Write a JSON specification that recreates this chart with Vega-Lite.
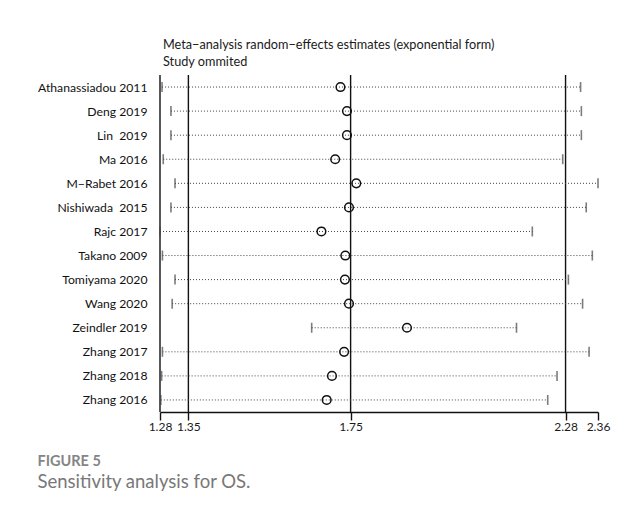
{
  "$schema": "https://vega.github.io/schema/vega-lite/v6.json",
  "width": 438,
  "height": 337,
  "autosize": {"type": "none"},
  "padding": {"left": 160, "top": 75, "right": 45, "bottom": 105},
  "background": "white",
  "config": {
    "view": {"stroke": null},
    "font": "Lato"
  },
  "title": {
    "text": ["Meta−analysis random−effects estimates (exponential form)", "Study ommited"],
    "anchor": "start",
    "frame": "group",
    "orient": "top",
    "dx": 3,
    "offset": 6,
    "fontSize": 12.7,
    "fontWeight": "normal",
    "lineHeight": 17,
    "color": "#1a1a1a",
    "font": "Lato"
  },
  "datasets": {
    "studies": [
      {"study": "Athanassiadou 2011", "lo": 1.285, "est": 1.725, "hi": 2.317},
      {"study": "Deng 2019", "lo": 1.307, "est": 1.741, "hi": 2.319},
      {"study": "Lin \u00a02019", "lo": 1.307, "est": 1.741, "hi": 2.319},
      {"study": "Ma 2016", "lo": 1.288, "est": 1.712, "hi": 2.273},
      {"study": "M−Rabet 2016", "lo": 1.317, "est": 1.764, "hi": 2.36},
      {"study": "Nishiwada \u00a02015", "lo": 1.307, "est": 1.746, "hi": 2.331},
      {"study": "Rajc 2017", "lo": 1.28, "est": 1.678, "hi": 2.198},
      {"study": "Takano 2009", "lo": 1.286, "est": 1.737, "hi": 2.346},
      {"study": "Tomiyama 2020", "lo": 1.317, "est": 1.736, "hi": 2.287},
      {"study": "Wang 2020", "lo": 1.31, "est": 1.746, "hi": 2.322},
      {"study": "Zeindler 2019", "lo": 1.654, "est": 1.889, "hi": 2.159},
      {"study": "Zhang 2017", "lo": 1.286, "est": 1.734, "hi": 2.338},
      {"study": "Zhang 2018", "lo": 1.284, "est": 1.704, "hi": 2.259},
      {"study": "Zhang 2016", "lo": 1.282, "est": 1.691, "hi": 2.236}
    ],
    "refs": [
      {"v": 1.28},
      {"v": 1.35},
      {"v": 1.75},
      {"v": 2.28}
    ]
  },
  "layer": [
    {
      "data": {"name": "refs"},
      "mark": {"type": "rule", "color": "#111111", "strokeWidth": 1.4},
      "encoding": {
        "x": {
          "field": "v",
          "type": "quantitative",
          "scale": {"domain": [1.28, 2.36], "nice": false, "zero": false},
          "axis": {
            "values": [1.28, 1.35, 1.75, 2.28, 2.36],
            "format": ".2f",
            "grid": false,
            "domainColor": "#111111",
            "domainWidth": 1.4,
            "tickColor": "#111111",
            "tickWidth": 1.4,
            "tickSize": 8,
            "labelFontSize": 12,
            "labelColor": "#1a1a1a",
            "labelPadding": 1,
            "labelFlush": false,
            "labelOverlap": false,
            "title": "FIGURE 5",
            "titleFontSize": 14.5,
            "titleFontWeight": "bold",
            "titleColor": "#858585",
            "titleAnchor": "start",
            "titleAlign": "left",
            "titleBaseline": "alphabetic",
            "titleX": -123,
            "titleY": 53
          }
        }
      }
    },
    {
      "data": {"name": "studies"},
      "mark": {"type": "rule", "color": "#444444", "strokeWidth": 1, "strokeDash": [1, 2]},
      "encoding": {
        "x": {"field": "lo", "type": "quantitative"},
        "x2": {"field": "hi"},
        "y": {
          "field": "study",
          "type": "nominal",
          "sort": null,
          "scale": {"type": "point", "padding": 0.5},
          "axis": {
            "domain": false,
            "ticks": false,
            "labelFontSize": 12.2,
            "labelColor": "#111111",
            "labelPadding": 13,
            "title": "Sensitivity analysis for OS.",
            "titleFontSize": 18.5,
            "titleFontWeight": "normal",
            "titleColor": "#787878",
            "titleAngle": 0,
            "titleAlign": "left",
            "titleBaseline": "alphabetic",
            "titleX": -123,
            "titleY": 412
          }
        }
      }
    },
    {
      "data": {"name": "studies"},
      "mark": {"type": "tick", "color": "#444444", "thickness": 1.6, "size": 10},
      "encoding": {
        "x": {"field": "lo", "type": "quantitative"},
        "y": {"field": "study", "type": "nominal", "sort": null}
      }
    },
    {
      "data": {"name": "studies"},
      "mark": {"type": "tick", "color": "#444444", "thickness": 1.6, "size": 10},
      "encoding": {
        "x": {"field": "hi", "type": "quantitative"},
        "y": {"field": "study", "type": "nominal", "sort": null}
      }
    },
    {
      "data": {"name": "studies"},
      "mark": {"type": "point", "shape": "circle", "filled": false, "color": "#111111", "strokeWidth": 1.5, "size": 75, "opacity": 1},
      "encoding": {
        "x": {"field": "est", "type": "quantitative"},
        "y": {"field": "study", "type": "nominal", "sort": null}
      }
    }
  ]
}
